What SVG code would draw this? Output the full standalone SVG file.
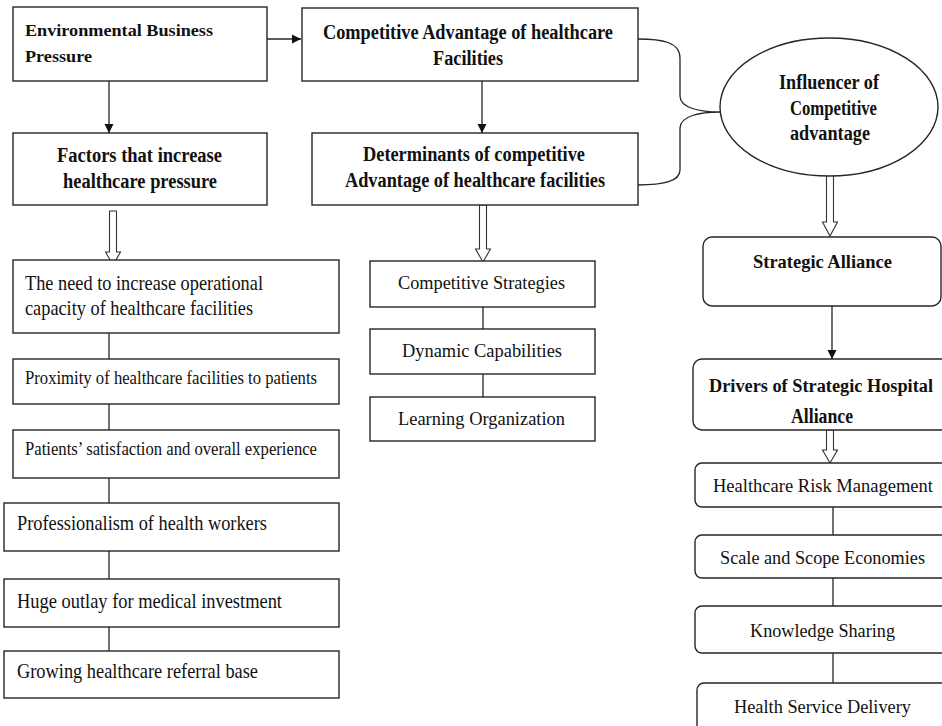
<svg xmlns="http://www.w3.org/2000/svg" width="942" height="726" viewBox="0 0 942 726">
<style>
.box{fill:#fff;stroke:#262626;stroke-width:1.4}
.ln{fill:none;stroke:#262626;stroke-width:1.3}
.hol{fill:#fff;stroke:#333;stroke-width:1.1}
.b{font-family:"Liberation Serif","Times New Roman",serif;font-weight:bold;fill:#111}
.r{font-family:"Liberation Serif","Times New Roman",serif;fill:#111}
</style>
<defs>
<marker id="ah" markerWidth="10" markerHeight="10" refX="9" refY="5" orient="auto" markerUnits="userSpaceOnUse">
<path d="M0,0.5 L9,5 L0,9.5 Z" fill="#111"/>
</marker>
</defs>
<rect width="942" height="726" fill="#fff"/>

<g id="connectors">
<line class="ln" x1="267" y1="39" x2="301" y2="39" marker-end="url(#ah)"/>
<line class="ln" x1="109" y1="81" x2="109" y2="133" marker-end="url(#ah)"/>
<line class="ln" x1="482" y1="81" x2="482" y2="133" marker-end="url(#ah)"/>
<line class="ln" x1="832" y1="306" x2="832" y2="359" marker-end="url(#ah)"/>
<path class="ln" d="M638,39 C662,39 680,42 680,58 L680,96 C680,108 700,112 720,112 C700,112 680,116 680,128 L680,170 C680,182 662,185 638,185"/>
<path class="hol" d="M109.5,211 L116.5,211 L116.5,252 L120.5,252 L113,265 L105.5,252 L109.5,252 Z"/>
<path class="hol" d="M479.5,205 L486.5,205 L486.5,249 L490.5,249 L483,262 L475.5,249 L479.5,249 Z"/>
<path class="hol" d="M826.5,175 L833.5,175 L833.5,222 L837.5,222 L830,236 L822.5,222 L826.5,222 Z"/>
<path class="hol" d="M826.5,430 L833.5,430 L833.5,450 L837.5,450 L830,463 L822.5,450 L826.5,450 Z"/>
<line class="ln" x1="109" y1="333" x2="109" y2="359"/>
<line class="ln" x1="109" y1="404" x2="109" y2="430"/>
<line class="ln" x1="109" y1="478" x2="109" y2="503"/>
<line class="ln" x1="109" y1="551" x2="109" y2="579"/>
<line class="ln" x1="109" y1="627" x2="109" y2="651"/>
<line class="ln" x1="483" y1="307" x2="483" y2="329"/>
<line class="ln" x1="483" y1="374" x2="483" y2="397"/>
<line class="ln" x1="833" y1="507" x2="833" y2="535"/>
<line class="ln" x1="833" y1="578" x2="833" y2="606"/>
<line class="ln" x1="833" y1="653" x2="833" y2="683"/>
</g>

<g id="env">
<rect class="box" x="13" y="7" width="254" height="74"/>
<text class="b" x="25" y="36" font-size="17.5" textLength="188" lengthAdjust="spacingAndGlyphs">Environmental Business</text>
<text class="b" x="25" y="62" font-size="17.5" textLength="67" lengthAdjust="spacingAndGlyphs">Pressure</text>
</g>
<g id="factors">
<rect class="box" x="13" y="133" width="254" height="72"/>
<text class="b" x="57" y="162" font-size="20" textLength="165" lengthAdjust="spacingAndGlyphs">Factors that increase</text>
<text class="b" x="63" y="188" font-size="20" textLength="154" lengthAdjust="spacingAndGlyphs">healthcare pressure</text>
</g>
<g id="compadv">
<rect class="box" x="302" y="8" width="336" height="73"/>
<text class="b" x="323" y="39" font-size="20" textLength="290" lengthAdjust="spacingAndGlyphs">Competitive Advantage of healthcare</text>
<text class="b" x="433" y="65" font-size="20" textLength="70" lengthAdjust="spacingAndGlyphs">Facilities</text>
</g>
<g id="determinants">
<rect class="box" x="312" y="133" width="326" height="72"/>
<text class="b" x="363" y="161" font-size="20" textLength="222" lengthAdjust="spacingAndGlyphs">Determinants of competitive</text>
<text class="b" x="345" y="187" font-size="20" textLength="260" lengthAdjust="spacingAndGlyphs">Advantage of healthcare facilities</text>
</g>
<g id="influencer">
<ellipse class="box" cx="829" cy="107" rx="109" ry="69"/>
<text class="b" x="779" y="89" font-size="20" textLength="100" lengthAdjust="spacingAndGlyphs">Influencer of</text>
<text class="b" x="790" y="115" font-size="20" textLength="87" lengthAdjust="spacingAndGlyphs">Competitive</text>
<text class="b" x="790" y="140" font-size="20" textLength="80" lengthAdjust="spacingAndGlyphs">advantage</text>
</g>

<g id="need">
<rect class="box" x="13" y="260" width="326" height="73"/>
<text class="r" x="25" y="290" font-size="21" textLength="238" lengthAdjust="spacingAndGlyphs">The need to increase operational</text>
<text class="r" x="25" y="315" font-size="21" textLength="228" lengthAdjust="spacingAndGlyphs">capacity of healthcare facilities</text>
</g>
<g id="proximity">
<rect class="box" x="13" y="359" width="326" height="45"/>
<text class="r" x="25" y="384" font-size="18" textLength="292" lengthAdjust="spacingAndGlyphs">Proximity of healthcare facilities to patients</text>
</g>
<g id="patients">
<rect class="box" x="13" y="430" width="326" height="48"/>
<text class="r" x="25" y="455" font-size="18" textLength="292" lengthAdjust="spacingAndGlyphs">Patients’ satisfaction and overall experience</text>
</g>
<g id="professionalism">
<rect class="box" x="4" y="503" width="335" height="48"/>
<text class="r" x="17" y="530" font-size="21" textLength="250" lengthAdjust="spacingAndGlyphs">Professionalism of health workers</text>
</g>
<g id="outlay">
<rect class="box" x="4" y="579" width="335" height="48"/>
<text class="r" x="17" y="608" font-size="21" textLength="265" lengthAdjust="spacingAndGlyphs">Huge outlay for medical investment</text>
</g>
<g id="referral">
<rect class="box" x="4" y="651" width="335" height="47"/>
<text class="r" x="17" y="678" font-size="21" textLength="241" lengthAdjust="spacingAndGlyphs">Growing healthcare referral base</text>
</g>

<g id="strategies">
<rect class="box" x="370" y="261" width="225" height="46"/>
<text class="r" x="398" y="289" font-size="19" textLength="167" lengthAdjust="spacingAndGlyphs">Competitive Strategies</text>
</g>
<g id="dynamic">
<rect class="box" x="370" y="329" width="225" height="45"/>
<text class="r" x="402" y="357" font-size="19" textLength="160" lengthAdjust="spacingAndGlyphs">Dynamic Capabilities</text>
</g>
<g id="learning">
<rect class="box" x="370" y="397" width="225" height="44"/>
<text class="r" x="398" y="425" font-size="19" textLength="167" lengthAdjust="spacingAndGlyphs">Learning Organization</text>
</g>

<g id="alliance">
<rect class="box" x="703" y="237" width="238" height="69" rx="9"/>
<text class="b" x="753" y="268" font-size="19" textLength="139" lengthAdjust="spacingAndGlyphs">Strategic Alliance</text>
</g>
<g id="drivers">
<rect class="box" x="693" y="359" width="262" height="71" rx="9"/>
<text class="b" x="709" y="392" font-size="18.5" textLength="224" lengthAdjust="spacingAndGlyphs">Drivers of Strategic Hospital</text>
<text class="b" x="791" y="423" font-size="20" textLength="62" lengthAdjust="spacingAndGlyphs">Alliance</text>
</g>
<g id="risk">
<rect class="box" x="695" y="463" width="260" height="44" rx="7"/>
<text class="r" x="713" y="492" font-size="19" textLength="220" lengthAdjust="spacingAndGlyphs">Healthcare Risk Management</text>
</g>
<g id="scale">
<rect class="box" x="695" y="535" width="260" height="43" rx="7"/>
<text class="r" x="720" y="564" font-size="19" textLength="205" lengthAdjust="spacingAndGlyphs">Scale and Scope Economies</text>
</g>
<g id="knowledge">
<rect class="box" x="695" y="606" width="260" height="47" rx="7"/>
<text class="r" x="750" y="637" font-size="19" textLength="145" lengthAdjust="spacingAndGlyphs">Knowledge Sharing</text>
</g>
<g id="delivery">
<rect class="box" x="697" y="683" width="258" height="60" rx="7"/>
<text class="r" x="734" y="713" font-size="19" textLength="177" lengthAdjust="spacingAndGlyphs">Health Service Delivery</text>
</g>
</svg>
